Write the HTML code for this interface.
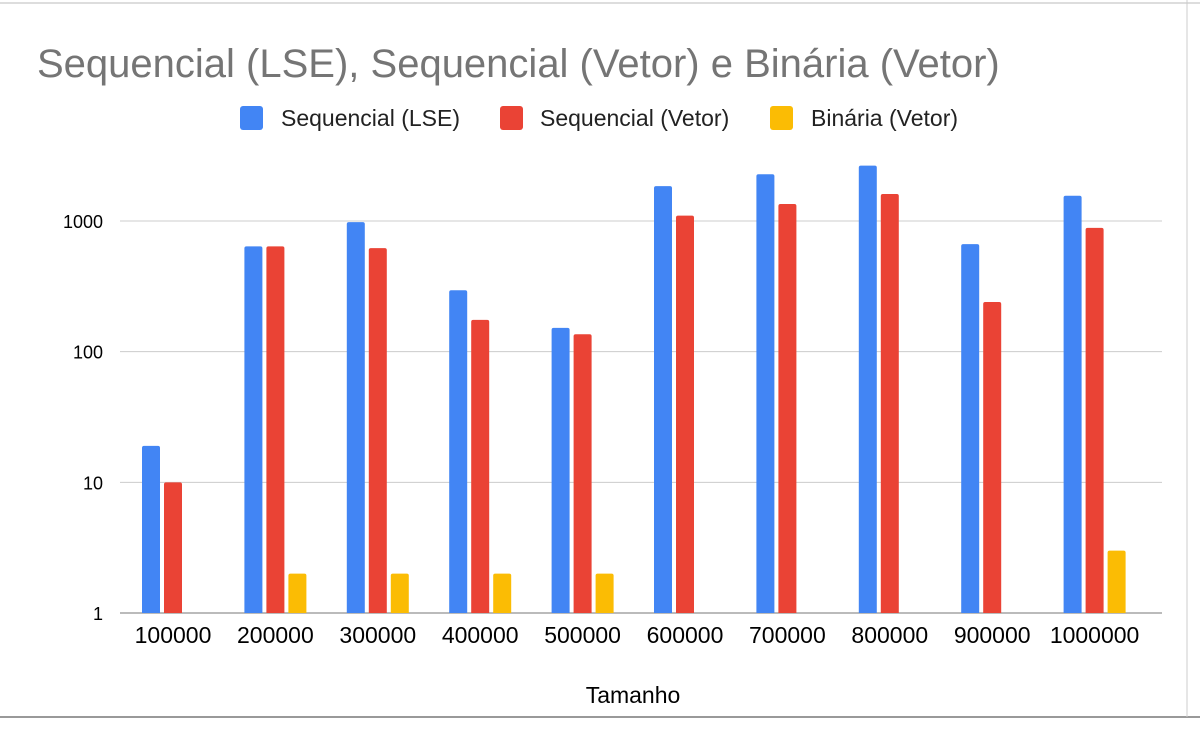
<!DOCTYPE html>
<html><head><meta charset="utf-8"><style>
body{margin:0;background:#fff;}
svg{display:block;font-family:"Liberation Sans",Arial,sans-serif;}
</style></head><body>
<svg id="chart" width="1200" height="748">
<rect x="0" y="0" width="1200" height="748" fill="#fff"/>
<line x1="0" y1="3" x2="1200" y2="3" stroke="#bbb" stroke-width="1"/>
<line x1="0" y1="717" x2="1200" y2="717" stroke="#999" stroke-width="2"/>
<line x1="1187" y1="0" x2="1187" y2="717" stroke="#ccc" stroke-width="1"/>
<text x="37" y="77" font-size="40" fill="#757575">Sequencial (LSE), Sequencial (Vetor) e Binária (Vetor)</text>
<g id="legend"></g>
<g id="grid"></g><g id="bars"></g><g id="labels"></g>
<text x="633" y="703" font-size="23" text-anchor="middle" fill="#000">Tamanho</text>
</svg>
<script>
const categories=["100000","200000","300000","400000","500000","600000","700000","800000","900000","1000000"];
const seqLSE=[19,640,980,295,152,1850,2280,2650,665,1560];
const seqVetor=[10,640,620,175,136,1100,1350,1610,240,885];
const binVetor=[null,2,2,2,2,null,null,null,null,3];
const yTicks=[1,10,100,1000];
const seriesNames=["Sequencial (LSE)","Sequencial (Vetor)","Binária (Vetor)"];
const colors=["#4285f4","#ea4335","#fbbc04"];
const NS="http://www.w3.org/2000/svg";
const plotL=120,plotR=1162,y0=613,dec=130.67;
function yScale(v){return y0-Math.log10(v)*dec;}
const groupW=102.4;
function xCenter(i){return 173+groupW*i;}
function mk(tag,attrs,parent){const e=document.createElementNS(NS,tag);for(const k in attrs)e.setAttribute(k,attrs[k]);parent.appendChild(e);return e;}
const grid=document.getElementById('grid'),bars=document.getElementById('bars'),labels=document.getElementById('labels'),legend=document.getElementById('legend');
yTicks.forEach(t=>{const y=yScale(t);
 const l=mk('line',{x1:plotL,x2:plotR,y1:y,y2:y,stroke:t===1?'#bbb':'#ccc','stroke-width':t===1?2:1},grid);
 
 
 const tx=mk('text',{x:103,y:y+7,'font-size':18,'text-anchor':'end',fill:'#000'},labels);
 tx.textContent=t;
 
 
});
const series=[seqLSE,seqVetor,binVetor];const bw=18,gap=4;
categories.forEach((c,i)=>{const cx=xCenter(i);
 series.forEach((s,j)=>{const v=s[i];if(v==null)return;
  const x=cx+(j-1)*(bw+gap)-bw/2;const y=yScale(v);
  const r=mk('path',{d:`M${x},${y0}V${y+2}Q${x},${y} ${x+2},${y}H${x+bw-2}Q${x+bw},${y} ${x+bw},${y+2}V${y0}Z`,fill:colors[j]},bars);
  
  
 });
 const tx=mk('text',{x:cx,y:643,'font-size':23,'text-anchor':'middle',fill:'#000'},labels);
 tx.textContent=c;
 
 
});
const lx=[240,500,770];const tx0=[281,540,811];
seriesNames.forEach((n,j)=>{
 const r=mk('rect',{x:lx[j],y:106,width:23,height:24,rx:3,fill:colors[j]},legend);
 
 
 const t=mk('text',{x:tx0[j],y:126,'font-size':23,fill:'#222'},legend);
 t.textContent=n;
 
 
});
</script>
</body></html>
